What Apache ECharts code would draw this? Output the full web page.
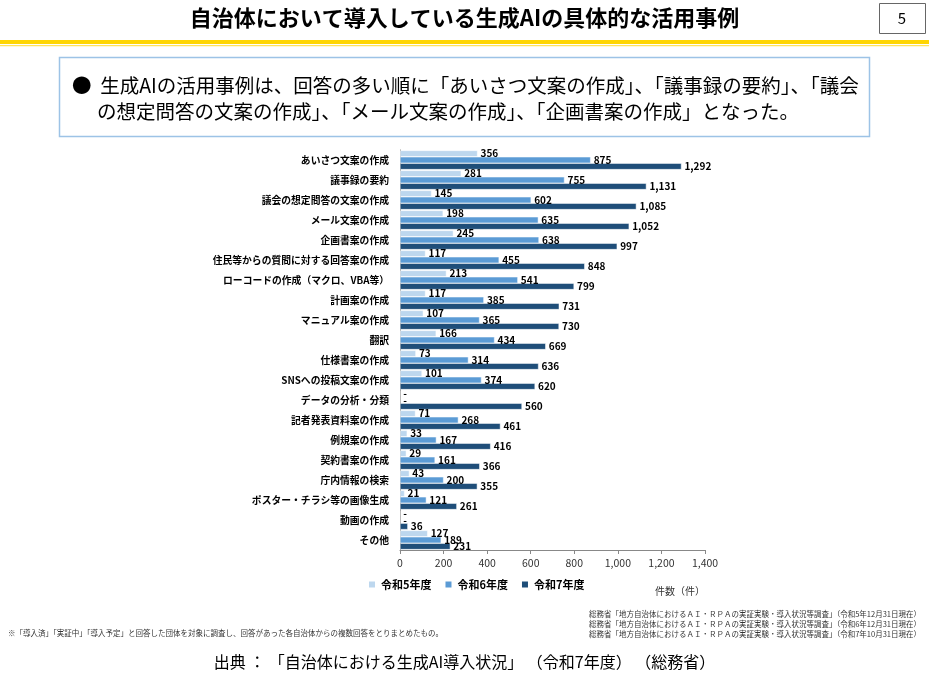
<!DOCTYPE html>
<html>
<head>
<meta charset="utf-8">
<script src="https://cdn.jsdelivr.net/npm/echarts@6/dist/echarts.min.js"></script>
<style>
  html, body { margin: 0; padding: 0; background: #fff; }
  #main { width: 929px; height: 689px; }
</style>
</head>
<body>
<div id="main"></div>
<script>
// 活用事例（上から回答の多い順）
var categories = [
  'あいさつ文案の作成', '議事録の要約', '議会の想定問答の文案の作成', 'メール文案の作成',
  '企画書案の作成', '住民等からの質問に対する回答案の作成', 'ローコードの作成（マクロ、VBA等）',
  '計画案の作成', 'マニュアル案の作成', '翻訳', '仕様書案の作成', 'SNSへの投稿文案の作成',
  'データの分析・分類', '記者発表資料案の作成', '例規案の作成', '契約書案の作成',
  '庁内情報の検索', 'ポスター・チラシ等の画像生成', '動画の作成', 'その他'
];
// null = 調査項目なし（「-」表示）
var r5 = [356, 281, 145, 198, 245, 117, 213, 117, 107, 166, 73, 101, null, 71, 33, 29, 43, 21, null, 127];
var r6 = [875, 755, 602, 635, 638, 455, 541, 385, 365, 434, 314, 374, null, 268, 167, 161, 200, 121, null, 189];
var r7 = [1292, 1131, 1085, 1052, 997, 848, 799, 731, 730, 669, 636, 620, 560, 461, 416, 366, 355, 261, 36, 231];
var xTicks = [0, 200, 400, 600, 800, 1000, 1200, 1400];

var FONT = '"Noto Sans CJK JP", "Noto Sans", sans-serif';
var chart = echarts.init(document.getElementById('main'));

function makeSeries(name, arr, color) {
  return {
    name: name,
    type: 'bar',
    data: arr.map(function (v) { return v == null ? 0 : v; }),
    barGap: '0%',
    barCategoryGap: '4%',
    itemStyle: { color: color, borderColor: '#fff', borderWidth: 0.5 },
    label: {
      show: true,
      position: 'right',
      distance: 3,
      color: '#000',
      fontFamily: FONT,
      fontWeight: 'bold',
      fontSize: 10,
      formatter: function (p) {
        var v = arr[p.dataIndex];
        return v == null ? '-' : v.toLocaleString('en-US');
      }
    }
  };
}

var option = {
  backgroundColor: '#fff',
  animation: false,
  textStyle: { fontFamily: FONT },
  grid: { left: 400, right: 224, top: 150, bottom: 139, containLabel: false },
  legend: {
    data: ['令和5年度', '令和6年度', '令和7年度'],
    left: 362,
    top: 574,
    icon: 'rect',
    itemWidth: 8,
    itemHeight: 8,
    itemGap: 12,
    textStyle: { fontFamily: FONT, fontWeight: 'bold', fontSize: 11, color: '#000' }
  },
  xAxis: {
    type: 'value',
    min: 0,
    max: 1400,
    interval: 200,
    axisLine: { show: true, lineStyle: { color: '#888' } },
    axisTick: { show: true, length: 4, lineStyle: { color: '#888' } },
    splitLine: { show: false },
    axisLabel: {
      color: '#333', fontSize: 10.5, margin: 8, fontFamily: FONT,
      formatter: function (v) { return xTicks.indexOf(v) >= 0 ? v.toLocaleString('en-US') : ''; }
    }
  },
  yAxis: {
    type: 'category',
    data: categories,
    inverse: true,
    axisLine: { show: true, lineStyle: { color: '#888' } },
    axisTick: { show: false },
    axisLabel: { color: '#000', fontWeight: 'bold', fontSize: 9.8, margin: 11, fontFamily: FONT }
  },
  series: [
    makeSeries('令和5年度', r5, '#bdd7ee'),
    makeSeries('令和6年度', r6, '#5b9bd5'),
    makeSeries('令和7年度', r7, '#1f4e79')
  ],
  graphic: [
    { type: 'text', left: 'center', top: 7, style: { text: '自治体において導入している生成AIの具体的な活用事例', font: 'bold 22px ' + FONT, fill: '#000' } },
    { type: 'rect', shape: { x: 879.5, y: 3.5, width: 46, height: 30 }, style: { fill: '#fff', stroke: '#666', lineWidth: 1 } },
    { type: 'text', x: 902, y: 18, style: { text: '5', font: '15px ' + FONT, fill: '#000', align: 'center', verticalAlign: 'middle' } },
    { type: 'rect', shape: { x: 0, y: 40, width: 929, height: 4 }, style: { fill: '#ffd500' } },
    { type: 'rect', shape: { x: 0, y: 45, width: 929, height: 1.2 }, style: { fill: '#ffe25a' } },
    { type: 'rect', shape: { x: 59.5, y: 57.5, width: 810, height: 79 }, style: { fill: '#fff', stroke: '#9dc3e6', lineWidth: 1.5 } },
    { type: 'text', x: 72, y: 76, style: { text: '●  生成AIの活用事例は、回答の多い順に「あいさつ文案の作成」、「議事録の要約」、「議会', font: '19.5px ' + FONT, fill: '#000' } },
    { type: 'text', x: 97, y: 102, style: { text: 'の想定問答の文案の作成」、「メール文案の作成」、「企画書案の作成」となった。', font: '19.5px ' + FONT, fill: '#000' } },
    { type: 'text', x: 705, y: 586, style: { text: '件数（件）', font: '10px ' + FONT, fill: '#333', align: 'right' } },
    { type: 'text', x: 8, y: 629, style: { text: '※「導入済」「実証中」「導入予定」と回答した団体を対象に調査し、回答があった各自治体からの複数回答をとりまとめたもの。', font: '7.5px ' + FONT, fill: '#333' } },
    { type: 'text', x: 921, y: 610, style: { text: '総務省「地方自治体におけるＡＩ・ＲＰＡの実証実験・導入状況等調査」（令和5年12月31日現在）', font: '7.5px ' + FONT, fill: '#333', align: 'right' } },
    { type: 'text', x: 921, y: 620, style: { text: '総務省「地方自治体におけるＡＩ・ＲＰＡの実証実験・導入状況等調査」（令和6年12月31日現在）', font: '7.5px ' + FONT, fill: '#333', align: 'right' } },
    { type: 'text', x: 921, y: 630, style: { text: '総務省「地方自治体におけるＡＩ・ＲＰＡの実証実験・導入状況等調査」（令和7年10月31日現在）', font: '7.5px ' + FONT, fill: '#333', align: 'right' } },
    { type: 'text', left: 'center', top: 654, style: { text: '出典 ： 「自治体における生成AI導入状況」 （令和7年度） （総務省）', font: '16px ' + FONT, fill: '#000' } }
  ]
};
chart.setOption(option);
</script>
</body>
</html>
